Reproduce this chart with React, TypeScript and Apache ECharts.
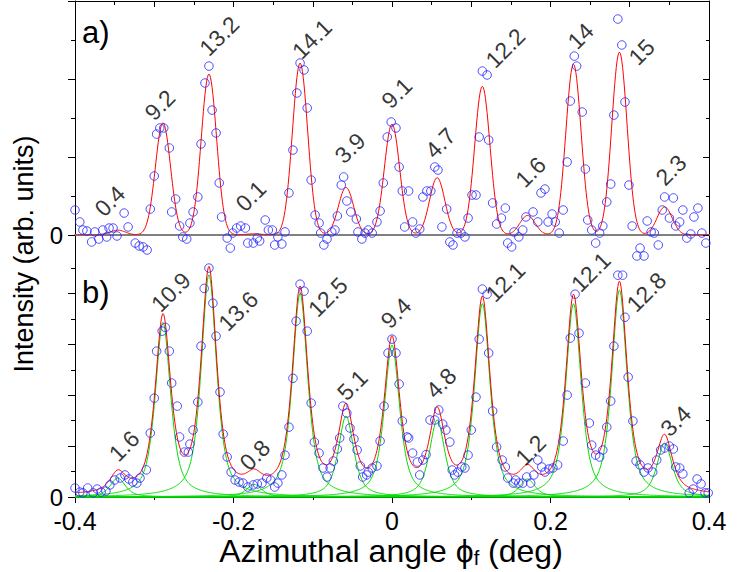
import React, { useEffect, useRef } from 'react';
import * as echarts from 'echarts';

const FONT = "'Liberation Sans', Arial, sans-serif";

// ---- peak model parameters ----
const peakCenters = [-0.346, -0.289, -0.231, -0.174, -0.116, -0.058, 0.0, 0.057, 0.114, 0.171, 0.229, 0.287, 0.344];
// panel a: Gaussian fit heights and width
const gaussHeightsA = [0.4, 9.2, 13.2, 0.1, 14.1, 3.9, 9.1, 4.7, 12.2, 1.6, 14.0, 15.0, 2.3];
const gaussSigmaA = 0.0096;
// panel b: (pseudo-Voigt) component amplitudes, half width, Lorentz fraction, background
const compAmpsB = [1.12, 10.3, 13.1, 0.75, 12.0, 4.77, 8.96, 4.54, 11.4, 1.06, 11.4, 12.2, 3.18];
const compHwhmB = 0.0115;
const compEtaB = 0.7;
const backgroundB = 0.06;

// ---- peak annotations ----
const labelsA = ['0.4', '9.2', '13.2', '0.1', '14.1', '3.9', '9.1', '4.7', '12.2', '1.6', '14', '15', '2.3'];
const labelXA = [-0.356, -0.293, -0.218, -0.178, -0.101, -0.053, 0.006, 0.061, 0.143, 0.175, 0.238, 0.315, 0.352];
const labelYA = [2.79, 10.66, 16.32, 3.2, 16.08, 7.14, 11.65, 7.55, 15.34, 5.17, 16.32, 15.01, 5.33];
const labelsB = ['1.6', '10.9', '13.6', '0.8', '12.5', '5.1', '9.4', '4.8', '12.1', '1.2', '12.1', '12.8', '3.4'];
const labelXB = [-0.338, -0.279, -0.194, -0.173, -0.081, -0.05, 0.005, 0.062, 0.143, 0.175, 0.251, 0.321, 0.358];
const labelYB = [3.01, 12.08, 10.96, 2.47, 11.79, 6.6, 10.84, 6.72, 12.67, 2.77, 13.26, 12.08, 4.48];

// ---- measured points (open circles) ----
const circlesA: number[][] = [
  [-0.400, 2.05], [-0.394, 1.07], [-0.390, 0.41], [-0.385, 0.33], [-0.379, -0.57], [-0.375, 0.25], [-0.370, -0.33], [-0.365, 0.41],
  [-0.360, -0.16], [-0.357, 0.57], [-0.352, 0.57], [-0.347, -0.08], [-0.338, 1.80], [-0.333, 0.66], [-0.324, -0.66], [-0.319, -0.90],
  [-0.314, -0.98], [-0.309, -1.23], [-0.305, 2.13], [-0.300, 4.84], [-0.297, 8.28], [-0.293, 8.78], [-0.288, 8.78], [-0.281, 7.14],
  [-0.278, 1.89], [-0.273, 2.95], [-0.268, 0.74], [-0.264, -0.16], [-0.259, -0.33], [-0.255, 0.98], [-0.251, 1.89], [-0.245, 3.12],
  [-0.241, 7.47], [-0.236, 12.47], [-0.231, 13.86], [-0.227, 10.25], [-0.222, 8.37], [-0.218, 4.27], [-0.215, 1.48], [-0.208, -0.25],
  [-0.204, -1.07], [-0.201, 0.16], [-0.196, 0.57], [-0.191, 0.74], [-0.185, 0.57], [-0.182, -0.66], [-0.175, -0.66], [-0.170, -0.25],
  [-0.167, -0.49], [-0.160, 1.23], [-0.156, 0.41], [-0.151, 0.41], [-0.148, -0.82], [-0.144, -0.16], [-0.139, -0.74], [-0.135, 0.25],
  [-0.130, 3.45], [-0.125, 6.97], [-0.120, 11.65], [-0.116, 14.11], [-0.111, 13.54], [-0.107, 10.42], [-0.102, 4.51], [-0.097, 1.64],
  [-0.092, 0.98], [-0.090, 0.16], [-0.086, -0.82], [-0.082, -0.33], [-0.076, 0.25], [-0.072, 0.41], [-0.069, 1.56], [-0.064, 4.10],
  [-0.061, 4.76], [-0.057, 2.79], [-0.052, 1.89], [-0.045, 1.31], [-0.043, 0.25], [-0.038, -0.33], [-0.034, 0.16], [-0.030, 0.41],
  [-0.025, 0.16], [-0.019, 1.07], [-0.015, 1.97], [-0.011, 4.27], [-0.006, 8.04], [-0.001, 9.27], [0.005, 8.78], [0.009, 5.58],
  [0.013, 3.61], [0.016, 0.66], [0.021, 3.61], [0.026, 1.07], [0.030, 0.16], [0.035, 0.49], [0.039, 3.12], [0.044, 3.61],
  [0.049, 3.61], [0.054, 5.58], [0.058, 5.33], [0.063, 0.66], [0.069, 2.13], [0.073, -0.57], [0.077, -0.82], [0.082, 0.16],
  [0.087, 0.16], [0.092, -0.16], [0.096, 1.39], [0.101, 3.28], [0.106, 3.28], [0.110, 8.04], [0.114, 13.45], [0.120, 13.13],
  [0.122, 7.79], [0.127, 2.63], [0.132, 0.90], [0.138, 1.39], [0.143, 2.21], [0.146, -0.66], [0.151, -0.98], [0.154, 0.25],
  [0.160, -0.16], [0.165, 0.41], [0.169, 1.48], [0.178, 1.89], [0.184, 1.07], [0.188, 3.45], [0.193, 3.77], [0.197, 1.07],
  [0.202, 1.72], [0.206, 1.07], [0.211, 0.16], [0.216, 2.05], [0.221, 5.99], [0.225, 10.99], [0.230, 14.68], [0.233, 13.86],
  [0.240, 10.09], [0.244, 5.41], [0.247, 1.23], [0.252, 0.41], [0.257, -0.66], [0.262, 0.16], [0.266, 0.74], [0.271, 2.71],
  [0.276, 4.18], [0.280, 9.84], [0.285, 17.72], [0.290, 15.59], [0.294, 10.91], [0.299, 4.10], [0.303, 0.74], [0.309, -1.72],
  [0.313, -1.07], [0.318, -1.72], [0.322, 1.15], [0.327, 0.25], [0.331, 0.16], [0.336, -0.82], [0.341, 2.05], [0.344, 3.12],
  [0.350, 1.39], [0.355, 3.04], [0.358, 0.74], [0.363, 1.07], [0.367, 2.05], [0.372, -0.25], [0.377, 0.08], [0.381, 1.48],
  [0.386, 2.21], [0.391, 0.16], [0.396, -0.66],
];

const circlesB: number[][] = [
  [-0.400, 0.53], [-0.394, 0.29], [-0.390, 0.24], [-0.384, 0.53], [-0.377, 0.24], [-0.372, 0.47], [-0.367, 0.29], [-0.361, 0.35],
  [-0.356, 0.71], [-0.350, 1.00], [-0.343, 1.12], [-0.337, 1.30], [-0.332, 1.06], [-0.327, 0.88], [-0.322, 0.82], [-0.318, 1.12],
  [-0.310, 1.60], [-0.305, 3.77], [-0.300, 5.83], [-0.297, 8.60], [-0.290, 9.78], [-0.286, 10.0], [-0.281, 8.60], [-0.278, 6.72],
  [-0.271, 5.36], [-0.268, 3.54], [-0.262, 2.65], [-0.257, 2.65], [-0.255, 3.12], [-0.251, 3.95], [-0.245, 5.60], [-0.241, 8.90],
  [-0.237, 12.3], [-0.231, 13.5], [-0.226, 11.43], [-0.222, 9.49], [-0.217, 6.19], [-0.213, 3.71], [-0.208, 2.36], [-0.203, 1.47],
  [-0.198, 1.00], [-0.193, 0.88], [-0.188, 0.82], [-0.182, 0.59], [-0.175, 0.71], [-0.170, 0.77], [-0.164, 0.82], [-0.158, 1.12],
  [-0.153, 1.00], [-0.148, 0.59], [-0.144, 0.82], [-0.139, 1.30], [-0.135, 2.47], [-0.130, 4.12], [-0.125, 7.00], [-0.121, 10.37],
  [-0.116, 12.55], [-0.111, 12.14], [-0.107, 9.78], [-0.102, 5.54], [-0.098, 3.24], [-0.092, 2.59], [-0.087, 1.71], [-0.082, 1.18],
  [-0.078, 1.71], [-0.074, 2.12], [-0.069, 2.83], [-0.066, 3.48], [-0.062, 5.36], [-0.057, 4.95], [-0.053, 4.07], [-0.048, 3.42],
  [-0.044, 2.77], [-0.040, 1.83], [-0.037, 1.18], [-0.032, 1.30], [-0.030, 1.47], [-0.025, 1.71], [-0.019, 1.83], [-0.015, 3.30],
  [-0.010, 5.36], [-0.005, 8.49], [0.000, 9.31], [0.005, 8.49], [0.009, 6.66], [0.013, 4.48], [0.019, 3.54], [0.021, 3.48],
  [0.026, 2.59], [0.032, 2.06], [0.035, 1.30], [0.039, 2.18], [0.043, 2.50], [0.048, 4.54], [0.054, 4.54], [0.059, 5.13],
  [0.064, 4.30], [0.068, 3.95], [0.073, 3.24], [0.076, 1.59], [0.079, 1.30], [0.083, 1.47], [0.088, 1.77], [0.092, 1.71],
  [0.096, 2.47], [0.100, 3.95], [0.106, 5.89], [0.110, 9.31], [0.114, 12.26], [0.120, 11.96], [0.122, 8.49], [0.127, 5.07],
  [0.132, 2.95], [0.139, 2.18], [0.143, 1.77], [0.146, 1.12], [0.153, 0.82], [0.156, 1.00], [0.160, 0.82], [0.165, 0.82],
  [0.170, 1.18], [0.175, 0.82], [0.179, 1.30], [0.184, 2.18], [0.189, 1.77], [0.193, 1.47], [0.198, 1.65], [0.203, 1.71],
  [0.209, 1.89], [0.216, 3.30], [0.221, 6.01], [0.225, 9.37], [0.231, 11.96], [0.236, 9.66], [0.244, 6.72], [0.249, 4.36],
  [0.252, 3.06], [0.257, 2.47], [0.262, 2.36], [0.266, 2.77], [0.271, 4.12], [0.276, 5.66], [0.280, 8.90], [0.285, 13.08],
  [0.291, 13.08], [0.294, 10.6], [0.298, 7.07], [0.304, 4.48], [0.308, 2.12], [0.313, 1.89], [0.318, 1.47], [0.323, 1.71],
  [0.329, 1.47], [0.334, 2.18], [0.339, 2.77], [0.344, 2.89], [0.350, 3.00], [0.355, 2.83], [0.358, 1.77], [0.363, 1.71],
  [0.367, 1.36], [0.375, 0.24], [0.380, 0.47], [0.385, 1.06], [0.390, 0.77], [0.395, 0.24], [0.399, 0.24],
];

// ---- axes ----
const xMin = -0.4;
const xMax = 0.4;
const yMaxA = 19.2;
const yMaxB = 15.45;
const majorTicksB = [0, 3, 6, 9, 12];
const minorTicksB = [1.5, 4.5, 7.5, 10.5, 13.5];

const curveStep = 0.001;

function curveX(): number[] {
  const xs: number[] = [];
  const n = Math.round((xMax - xMin) / curveStep);
  for (let i = 0; i <= n; i++) xs.push(+(xMin + i * curveStep).toFixed(4));
  return xs;
}

const gauss = (x: number, c: number, h: number) => h * Math.exp(-0.5 * ((x - c) / gaussSigmaA) ** 2);
const pvoigt = (x: number, c: number, a: number) => {
  const u2 = ((x - c) / compHwhmB) ** 2;
  return a * (compEtaB / (1 + u2) + (1 - compEtaB) * Math.exp(-Math.LN2 * u2));
};

export default function App() {
  const ref = useRef<HTMLDivElement>(null);

  useEffect(() => {
    document.body.style.margin = '0';
    if (!ref.current) return;
    const chart = echarts.init(ref.current, undefined, { renderer: 'svg' });

    const xs = curveX();
    const fitA = xs.map((x) => [x, peakCenters.reduce((s, c, i) => s + gauss(x, c, gaussHeightsA[i]), 0)]);
    const comps = peakCenters.map((c, i) => xs.map((x) => [x, pvoigt(x, c, compAmpsB[i])]));
    const fitB = xs.map((x, k) => [x, backgroundB + comps.reduce((s, comp) => s + comp[k][1], 0)]);

    const black = { color: '#000', width: 1 };
    const xFmt = (v: number) => (Math.abs(v) < 1e-9 ? '0' : v.toFixed(1));

    const circleStyle = { color: 'rgba(0,0,0,0)', borderColor: '#2424ff', borderWidth: 1 };
    const labelSeries = (labels: string[], lx: number[], ly: number[], xi: number, yi: number) => ({
      type: 'scatter',
      xAxisIndex: xi,
      yAxisIndex: yi,
      symbol: 'circle',
      symbolSize: 1,
      itemStyle: { color: 'rgba(0,0,0,0)' },
      silent: true,
      z: 6,
      data: labels.map((t, i) => ({ name: t, value: [lx[i], ly[i]] })),
      label: {
        show: true,
        position: 'inside',
        rotate: 45,
        formatter: '{b}',
        fontSize: 23,
        fontFamily: FONT,
        color: '#000',
        align: 'center',
        verticalAlign: 'middle',
      },
    });

    const yLine = { show: true, onZero: false, lineStyle: black };
    const yNoLine = { show: false, onZero: false };
    const zeroLabel = { fontSize: 24, lineHeight: 18, color: '#000', fontFamily: FONT, margin: 12 };

    const option: any = {
      animation: false,
      backgroundColor: '#ffffff',
      grid: [
        { left: 75, right: 38, top: 1, height: 234 },
        { left: 75, right: 38, top: 235, height: 262 },
      ],
      xAxis: [
        {
          gridIndex: 0, type: 'value', position: 'top', min: xMin, max: xMax, interval: 0.1,
          axisLine: { show: true, onZero: false, lineStyle: black },
          axisTick: { show: true, inside: true, length: 6, lineStyle: black },
          minorTick: { show: true, splitNumber: 2, length: 4, lineStyle: black },
          axisLabel: { show: false }, splitLine: { show: false },
        },
        {
          gridIndex: 0, type: 'value', position: 'bottom', min: xMin, max: xMax,
          axisLine: { show: true, onZero: false, lineStyle: { color: '#808080', width: 2 } },
          axisTick: { show: false }, axisLabel: { show: false }, splitLine: { show: false },
        },
        {
          gridIndex: 1, type: 'value', position: 'bottom', min: xMin, max: xMax, interval: 0.2,
          axisLine: { show: true, onZero: false, lineStyle: black },
          axisTick: { show: true, length: 6, lineStyle: black },
          minorTick: { show: true, splitNumber: 2, length: 3, lineStyle: black },
          axisLabel: { fontSize: 25, lineHeight: 20, color: '#000', fontFamily: FONT, margin: 14, formatter: xFmt },
          splitLine: { show: false },
        },
      ],
      yAxis: [
        {
          gridIndex: 0, type: 'value', position: 'left', min: 0, max: yMaxA, interval: 6.4,
          axisLine: yLine,
          axisTick: { show: true, length: 7, lineStyle: black },
          minorTick: { show: true, splitNumber: 2, length: 4, lineStyle: black },
          axisLabel: { ...zeroLabel, formatter: (v: number) => (Math.abs(v) < 1e-9 ? '0' : '') },
          splitLine: { show: false },
        },
        {
          gridIndex: 0, type: 'value', position: 'right', min: 0, max: yMaxA, interval: 6.4,
          axisLine: yLine,
          axisTick: { show: true, inside: true, length: 6, lineStyle: black },
          minorTick: { show: true, splitNumber: 2, length: 3, lineStyle: black },
          axisLabel: { show: false }, splitLine: { show: false },
        },
        {
          gridIndex: 1, type: 'value', position: 'left', min: 0, max: yMaxB,
          axisLine: yLine,
          axisTick: { show: true, length: 7, lineStyle: black, customValues: majorTicksB },
          axisLabel: { ...zeroLabel, customValues: [0], formatter: () => '0' },
          splitLine: { show: false },
        },
        {
          gridIndex: 1, type: 'value', position: 'left', min: 0, max: yMaxB,
          axisLine: yNoLine,
          axisTick: { show: true, length: 4, lineStyle: black, customValues: minorTicksB },
          axisLabel: { show: false }, splitLine: { show: false },
        },
        {
          gridIndex: 1, type: 'value', position: 'right', min: 0, max: yMaxB,
          axisLine: yLine,
          axisTick: { show: true, inside: true, length: 6, lineStyle: black, customValues: majorTicksB },
          axisLabel: { show: false }, splitLine: { show: false },
        },
        {
          gridIndex: 1, type: 'value', position: 'right', min: 0, max: yMaxB,
          axisLine: yNoLine,
          axisTick: { show: true, inside: true, length: 3, lineStyle: black, customValues: minorTicksB },
          axisLabel: { show: false }, splitLine: { show: false },
        },
      ],
      series: [
        {
          type: 'line', xAxisIndex: 0, yAxisIndex: 0, data: fitA, showSymbol: false, silent: true, z: 3,
          lineStyle: { color: '#ff0000', width: 1 },
        },
        {
          type: 'scatter', xAxisIndex: 0, yAxisIndex: 0, data: circlesA, symbol: 'circle', symbolSize: 8.5,
          clip: false, silent: true, z: 4, itemStyle: circleStyle,
        },
        labelSeries(labelsA, labelXA, labelYA, 0, 0),
        ...comps.map((comp) => ({
          type: 'line', xAxisIndex: 2, yAxisIndex: 2, data: comp, showSymbol: false, silent: true, z: 2,
          lineStyle: { color: '#00dd00', width: 1 },
        })),
        {
          type: 'line', xAxisIndex: 2, yAxisIndex: 2, data: fitB, showSymbol: false, silent: true, z: 3,
          lineStyle: { color: '#ff0000', width: 1 },
        },
        {
          type: 'scatter', xAxisIndex: 2, yAxisIndex: 2, data: circlesB, symbol: 'circle', symbolSize: 8.5,
          clip: false, silent: true, z: 4, itemStyle: circleStyle,
        },
        labelSeries(labelsB, labelXB, labelYB, 2, 2),
      ],
      graphic: [
        {
          type: 'text', x: 24, y: 254, rotation: Math.PI / 2, silent: true,
          style: { text: 'Intensity (arb. units)', fontSize: 27, fontFamily: FONT, fill: '#000', align: 'center', verticalAlign: 'middle' },
        },
        {
          type: 'text', x: 391, y: 551, silent: true,
          style: {
            text: '{m|Azimuthal angle ϕ}{s|f}{m| (deg)}',
            align: 'center', verticalAlign: 'middle', fill: '#000',
            rich: {
              m: { fontSize: 32, fontFamily: FONT, fill: '#000' },
              s: { fontSize: 20, fontFamily: FONT, fill: '#000', padding: [14, 0, 0, 0] },
            },
          },
        },
        {
          type: 'text', x: 82, y: 32, silent: true,
          style: { text: 'a)', fontSize: 31, fontFamily: FONT, fill: '#000', align: 'left', verticalAlign: 'middle' },
        },
        {
          type: 'text', x: 82, y: 292, silent: true,
          style: { text: 'b)', fontSize: 31, fontFamily: FONT, fill: '#000', align: 'left', verticalAlign: 'middle' },
        },
      ],
    };

    chart.setOption(option);
    return () => chart.dispose();
  }, []);

  return <div ref={ref} style={{ width: 747, height: 572 }} />;
}
